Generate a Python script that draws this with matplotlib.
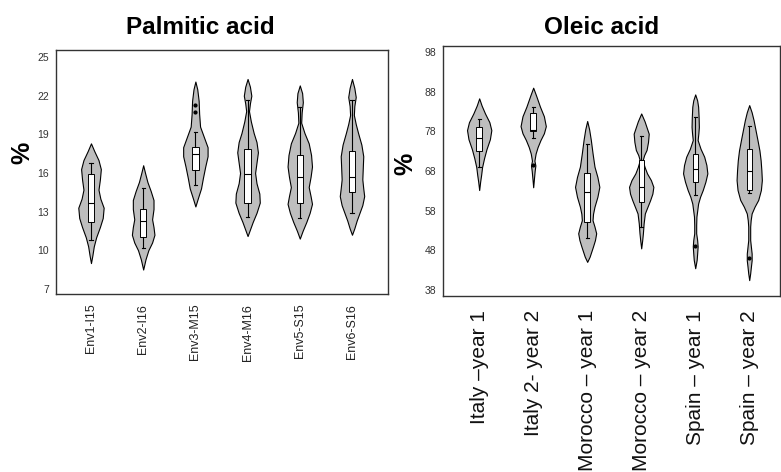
import matplotlib.pyplot as plt
import numpy as np

plt.rcParams['font.family'] = ['Liberation Sans', 'DejaVu Sans']

# ---- Palmitic acid ----
palm_labels = ['Env1-I15', 'Env2-I16', 'Env3-M15', 'Env4-M16', 'Env5-S15', 'Env6-S16']
# violin outlines: y value and half width
palm_y = [
    [18.3, 17.7, 17.0, 16.3, 15.5, 14.7, 14.0, 13.3, 12.5, 11.8, 11.0, 10.3, 9.6, 9.0],
    [16.6, 16.0, 15.3, 14.6, 13.9, 13.2, 12.4, 11.8, 11.2, 10.6, 10.0, 9.3, 8.5],
    [23.1, 22.5, 21.6, 20.6, 19.6, 18.8, 18.0, 17.3, 16.5, 15.6, 14.8, 14.0, 13.4],
    [23.3, 22.7, 22.0, 21.4, 20.8, 20.0, 19.1, 18.4, 17.6, 16.8, 16.0, 15.2, 14.4, 13.7, 12.9, 12.2, 11.6, 11.1],
    [22.8, 22.2, 21.5, 20.7, 19.9, 19.1, 18.3, 17.4, 16.5, 15.7, 14.9, 14.2, 13.6, 12.9, 12.2, 11.5, 10.9],
    [23.3, 22.6, 21.9, 21.2, 20.5, 19.8, 19.1, 18.2, 17.3, 16.4, 15.5, 14.8, 14.2, 13.5, 12.9, 12.3, 11.7, 11.2],
]
palm_w = [
    [0, 0.07, 0.16, 0.21, 0.19, 0.16, 0.20, 0.27, 0.25, 0.19, 0.11, 0.06, 0.03, 0],
    [0, 0.04, 0.09, 0.16, 0.22, 0.22, 0.19, 0.22, 0.24, 0.19, 0.11, 0.05, 0],
    [0, 0.04, 0.07, 0.08, 0.10, 0.18, 0.26, 0.26, 0.21, 0.16, 0.12, 0.05, 0],
    [0, 0.05, 0.08, 0.05, 0.03, 0.07, 0.13, 0.19, 0.22, 0.19, 0.16, 0.19, 0.25, 0.26, 0.19, 0.11, 0.05, 0],
    [0, 0.05, 0.065, 0.04, 0.03, 0.10, 0.19, 0.24, 0.26, 0.23, 0.19, 0.23, 0.26, 0.21, 0.14, 0.06, 0],
    [0, 0.05, 0.08, 0.05, 0.04, 0.08, 0.13, 0.20, 0.24, 0.23, 0.22, 0.24, 0.26, 0.22, 0.16, 0.10, 0.05, 0],
]
# box: whisker low, q1, median, q3, whisker high
palm_box = [
    [10.8, 12.2, 13.7, 15.9, 16.75],
    [10.2, 11.0, 12.3, 13.2, 14.8],
    [15.1, 16.2, 17.5, 18.05, 19.2],
    [12.6, 13.7, 15.9, 17.9, 21.65],
    [12.5, 13.65, 15.7, 17.4, 21.1],
    [12.9, 14.5, 15.7, 17.7, 21.65],
]
palm_out = [[], [], [20.7, 21.3], [], [], []]

# ---- Oleic acid ----
ole_labels = ['Italy \u2013year 1', 'Italy 2- year 2', 'Morocco \u2013 year 1',
              'Morocco \u2013 year 2', 'Spain \u2013 year 1', 'Spain \u2013 year 2']
ole_y = [
    [86.3, 84.5, 82.5, 80.3, 78.3, 76.0, 73.5, 71.2, 69.0, 67.0, 65.3, 63.2],
    [89.0, 87.0, 84.2, 81.8, 79.3, 77.5, 75.8, 74.0, 72.4, 70.6, 69.4, 68.0, 66.0, 63.9],
    [80.6, 78.5, 75.8, 72.5, 69.1, 66.5, 64.0, 61.5, 59.0, 57.2, 55.6, 54.0, 52.3, 50.6, 49.0, 46.4, 45.1],
    [82.5, 80.5, 77.4, 75.3, 73.3, 72.0, 70.7, 69.0, 67.4, 65.7, 64.0, 62.3, 60.7, 59.0, 57.3, 54.8, 52.3, 50.5, 48.5],
    [87.3, 85.8, 84.2, 81.6, 79.1, 77.5, 75.8, 73.6, 71.6, 69.5, 67.4, 65.3, 63.2, 61.5, 59.8, 56.5, 54.4, 52.3,
     50.6, 49.0, 47.2, 45.6, 43.5],
    [84.6, 82.8, 80.8, 78.3, 75.8, 73.2, 70.7, 68.2, 65.7, 63.2, 60.7, 59.0, 57.3, 55.6, 54.0, 50.6, 48.9, 47.2,
     45.5, 43.9, 42.2, 40.5],
]
ole_w = [
    [0, 0.05, 0.12, 0.21, 0.25, 0.22, 0.15, 0.10, 0.06, 0.04, 0.02, 0],
    [0, 0.06, 0.14, 0.22, 0.26, 0.22, 0.15, 0.09, 0.05, 0.025, 0.045, 0.03, 0.015, 0],
    [0, 0.04, 0.075, 0.11, 0.15, 0.21, 0.25, 0.21, 0.15, 0.12, 0.11, 0.15, 0.185, 0.16, 0.12, 0.05, 0],
    [0, 0.07, 0.155, 0.14, 0.11, 0.06, 0.03, 0.07, 0.12, 0.20, 0.25, 0.23, 0.185, 0.13, 0.075, 0.05, 0.035, 0.02, 0],
    [0, 0.04, 0.06, 0.07, 0.075, 0.065, 0.05, 0.11, 0.185, 0.23, 0.25, 0.21, 0.155, 0.10, 0.06, 0.025, 0.02, 0.02,
     0.04, 0.05, 0.04, 0.03, 0],
    [0, 0.05, 0.09, 0.13, 0.17, 0.21, 0.235, 0.25, 0.26, 0.24, 0.185, 0.11, 0.05, 0.03, 0.02, 0.02, 0.035, 0.05,
     0.05, 0.035, 0.02, 0],
]
ole_box = [
    [69.1, 73.1, 76.4, 79.1, 81.0],
    [76.2, 78.0, 78.3, 82.6, 84.2],
    [51.0, 55.2, 62.8, 67.6, 74.9],
    [54.0, 60.2, 63.9, 70.7, 76.8],
    [61.9, 65.3, 68.4, 72.4, 81.6],
    [62.4, 63.2, 68.1, 73.5, 79.3],
]
ole_out = [[], [69.6], [], [], [49.0], [46.0]]


def draw_panel(ax, ys, ws, boxes, outs, box_w):
    pos = np.arange(1, len(ys) + 1)
    vstats = []
    for y, w in zip(ys, ws):
        y = np.array(y)
        w = np.array(w)
        vstats.append(dict(coords=y, vals=w, mean=np.nan, median=np.nan,
                           min=y.min(), max=y.max()))
    widths = [2 * max(w) * 0.9 for w in ws]
    parts = ax.violin(vstats, positions=pos, widths=widths,
                      showmeans=False, showextrema=False, showmedians=False)
    for b in parts['bodies']:
        b.set_facecolor('#BEBEBE')
        b.set_edgecolor('black')
        b.set_linewidth(0.8)
        b.set_alpha(1)
    bstats = []
    for b, o in zip(boxes, outs):
        bstats.append(dict(whislo=b[0], q1=b[1], med=b[2], q3=b[3], whishi=b[4], fliers=o))
    ax.bxp(bstats, positions=pos, widths=box_w, patch_artist=True,
           boxprops=dict(facecolor='white', edgecolor='black', linewidth=0.7),
           medianprops=dict(color='black', linewidth=0.8),
           whiskerprops=dict(color='black', linewidth=0.8),
           capprops=dict(color='black', linewidth=0.8), capwidths=box_w * 0.5,
           flierprops=dict(marker='o', markersize=2, markerfacecolor='black',
                           markeredgecolor='black'))
    for s in ax.spines.values():
        s.set_color('#333333')
        s.set_linewidth(1.0)


fig = plt.figure(figsize=(7.81, 4.72), dpi=100)

ax1 = fig.add_axes([56 / 781, 1 - 294 / 472, 332 / 781, 244 / 472])
draw_panel(ax1, palm_y, palm_w, palm_box, palm_out, 0.12)
ax1.set_xlim(0.33, 6.69)
ax1.set_ylim(6.6, 25.55)
ax1.set_yticks([7, 10, 13, 16, 19, 22, 25])
ax1.set_xticks(np.arange(1, 7))
ax1.set_xticklabels(palm_labels, rotation=90, fontsize=9, color='#222222')
ax1.tick_params(axis='y', length=0, pad=5, labelsize=7.5, labelcolor='#333333')
ax1.tick_params(axis='x', length=0, pad=7)
ax1.set_ylabel('%', fontsize=18, fontweight='bold')
ax1.yaxis.set_label_coords(-0.065, 0.58)
fig.text(200 / 781, 1 - 28 / 472, 'Palmitic acid', fontsize=17.5, fontweight='bold',
         ha='center', va='center')

ax2 = fig.add_axes([443 / 781, 1 - 296 / 472, 337 / 781, 250 / 472])
draw_panel(ax2, ole_y, ole_w, ole_box, ole_out, 0.1)
ax2.set_xlim(0.33, 6.57)
ax2.set_ylim(36.5, 99.5)
ax2.set_yticks([38, 48, 58, 68, 78, 88, 98])
ax2.set_xticks(np.arange(1, 7))
ax2.set_xticklabels(ole_labels, rotation=90, fontsize=15, color='#111111')
ax2.tick_params(axis='y', length=0, pad=5, labelsize=7.5, labelcolor='#333333')
ax2.tick_params(axis='x', length=0, pad=10)
ax2.set_ylabel('%', fontsize=18, fontweight='bold')
ax2.yaxis.set_label_coords(-0.075, 0.53)
fig.text(602 / 781, 1 - 27 / 472, 'Oleic acid', fontsize=17.5, fontweight='bold',
         ha='center', va='center')

plt.savefig('out.png', dpi=100)
